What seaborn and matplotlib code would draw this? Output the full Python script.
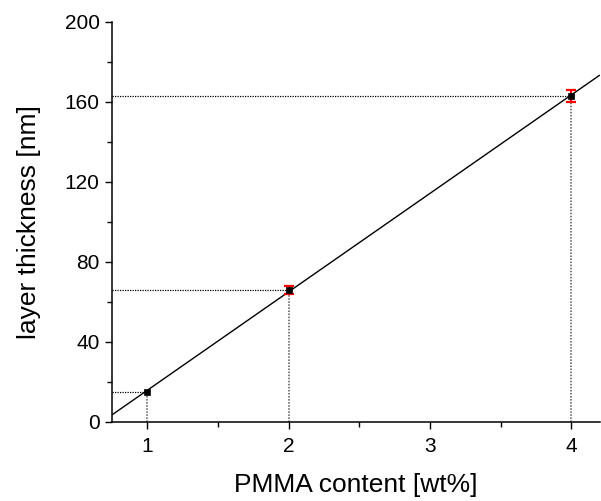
import numpy as np
import pandas as pd
import matplotlib
matplotlib.use("Agg")
import matplotlib.pyplot as plt
from matplotlib.ticker import MultipleLocator
import seaborn as sns

# Measured film thickness versus polymer concentration
pmma_wt = [1, 2, 4]
thickness_nm = [15, 66, 163]
thickness_err = [0, 2, 3]

x_ticks = [1, 2, 3, 4]
y_ticks = [0, 40, 80, 120, 160, 200]

sns.set_theme(style="white")
plt.rcParams["font.family"] = ["Liberation Sans", "DejaVu Sans"]

df = pd.DataFrame({"wt": pmma_wt, "d": thickness_nm, "err": thickness_err})

fig = plt.figure(figsize=(6.01, 5.01), dpi=100)
ax = fig.add_axes([112 / 601, (501 - 421.7) / 501, (599.5 - 112) / 601, 400 / 501])

xmin, xmax = 0.75, 4.2
ax.set_xlim(xmin, xmax)
ax.set_ylim(0, 200)

# guide lines from the axes to each measured point
for xv, yv in zip(pmma_wt, thickness_nm):
    ax.plot([xmin, xv], [yv, yv], color="black", lw=0.9, ls=(0, (1, 1)), zorder=1)
    ax.plot([xv, xv], [0, yv], color="#555555", lw=1.1, ls=(0, (1, 1)), zorder=1)

# linear fit through the measurements
slope, intercept = np.polyfit(df["wt"], df["d"], 1)
fit = pd.DataFrame({"wt": [xmin, xmax]})
fit["d"] = slope * fit["wt"] + intercept
sns.lineplot(data=fit, x="wt", y="d", ax=ax, color="black", lw=1.0, zorder=2)

eb = df[df["err"] > 0]
ax.errorbar(eb["wt"], eb["d"], yerr=eb["err"], fmt="none", ecolor="red",
            elinewidth=1.5, capsize=3.5, capthick=1.6, zorder=3)
sns.scatterplot(data=df, x="wt", y="d", ax=ax, marker="s", s=16, color="black",
                edgecolor="black", linewidth=0.5, zorder=4)

ax.set_xticks(x_ticks)
ax.set_yticks(y_ticks)
ax.xaxis.set_minor_locator(MultipleLocator(0.5))
ax.yaxis.set_minor_locator(MultipleLocator(20))
ax.tick_params(which="major", direction="out", length=5, width=1.0, labelsize=15,
               color="black", labelcolor="black", bottom=True, left=True, pad=4)
ax.tick_params(axis="x", which="major", pad=6)
ax.tick_params(which="minor", direction="out", length=3.5, width=1.0,
               color="black", bottom=True, left=True)

for side in ["top", "right"]:
    ax.spines[side].set_visible(False)
for side in ["left", "bottom"]:
    ax.spines[side].set_color("black")
    ax.spines[side].set_linewidth(1.1)

ax.set_xlabel("PMMA content [wt%]", fontsize=19, color="black", labelpad=12)
ax.set_ylabel("layer thickness [nm]", fontsize=19, color="black", labelpad=17)

fig.savefig("out.png", dpi=100)
